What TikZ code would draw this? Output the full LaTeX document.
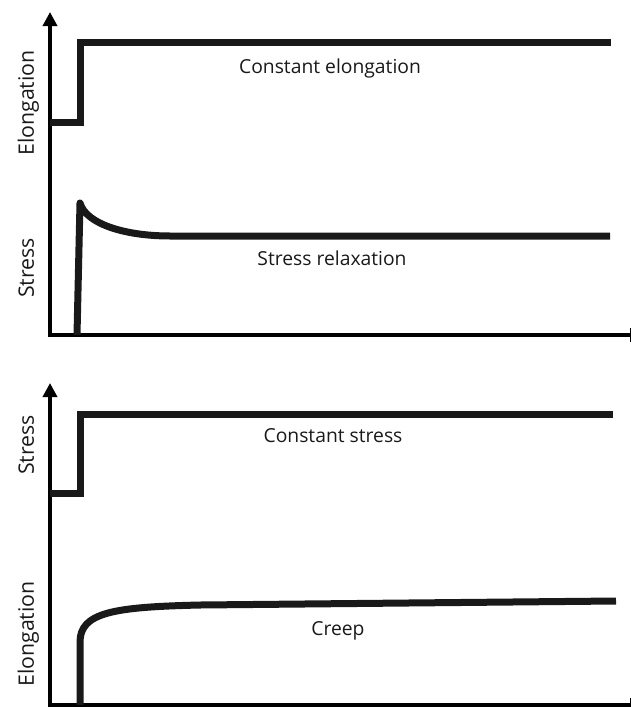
\documentclass[tikz,border=0pt]{standalone}
\usepackage{fontspec}
\setmainfont{Open Sans}
\usetikzlibrary{arrows.meta}
\begin{document}
\begin{tikzpicture}[x=1pt,y=-1pt,
  axis/.style={line width=4.5pt, line cap=butt},
  yaxis/.style={axis, -{Triangle[width=14pt,length=14pt]}},
  xaxis/.style={axis, -{Bar[width=14pt,line width=1.5pt]}},
  curve/.style={line width=7pt, line join=miter, color=black!90},
  lbl/.style={font=\fontsize{19.3}{23}\selectfont, text=black!90, anchor=base, inner sep=0pt},
  ylbl/.style={lbl, font=\fontsize{21.3}{25}\selectfont, rotate=90}]
\useasboundingbox (0,0) rectangle (631,707);

% ---------- top panel ----------
\coordinate (o1) at (50,335);
\coordinate (t1) at (50,12);
\coordinate (r1) at (631,335);
\draw[yaxis] (o1) -- (t1);
\draw[xaxis] ([xshift=-2.2pt]o1) -- (r1);

\draw[curve] (50,122) -- (80,122) -- (80,42) -- (611,42);
\draw[curve, line join=round] (77,335) -- (80,203) .. controls (86,224) and (125,236) .. (170,236) -- (610,236);

\node[lbl] (ce) at (330,73) {Constant elongation};
\node[lbl] (sr) at (332,265) {Stress relaxation};
\node[ylbl] (el1) at (34,103) {Elongation};
\node[ylbl] (st1) at (34,268) {Stress};

% ---------- bottom panel ----------
\coordinate (o2) at (50,705);
\coordinate (t2) at (50,383);
\coordinate (r2) at (631,705);
\draw[yaxis] (o2) -- (t2);
\draw[xaxis] ([xshift=-2.2pt]o2) -- (r2);

\draw[curve] (50,493) -- (80,493) -- (80,414) -- (613,414);
\draw[curve] (80,705) -- (80,642) .. controls (80,612) and (115,607) .. (200,605) -- (616,601);

\node[lbl] (cs) at (333,442) {Constant stress};
\node[lbl] (cr) at (338,635) {Creep};
\node[ylbl] (st2) at (34,445) {Stress};
\node[ylbl] (el2) at (34,634) {Elongation};
\end{tikzpicture}
\end{document}
